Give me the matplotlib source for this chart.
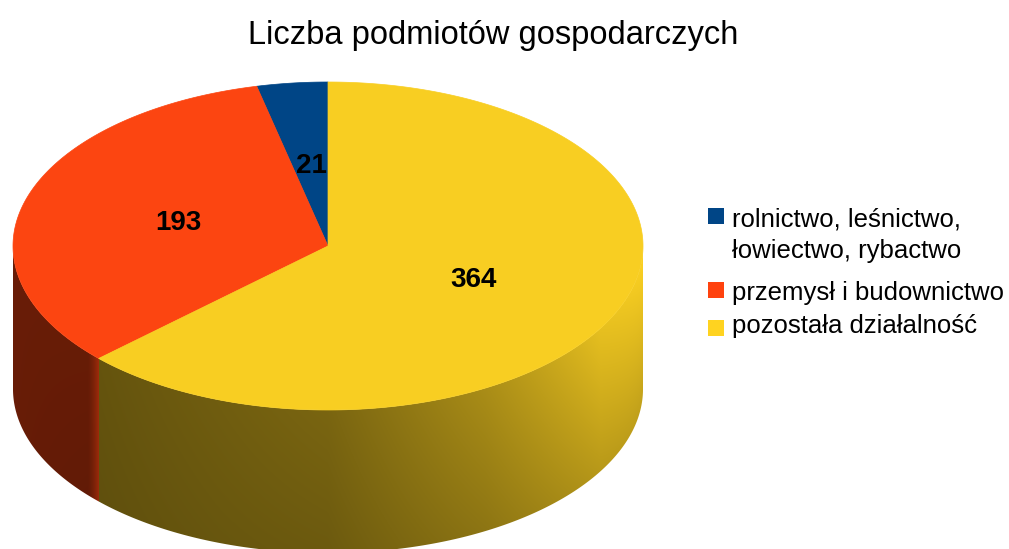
import numpy as np
import matplotlib
matplotlib.use("Agg")
import matplotlib.pyplot as plt
from matplotlib.patches import Polygon, Rectangle
from matplotlib.colors import to_rgb

# ---- data ----
title = "Liczba podmiotów gospodarczych"
categories = ["rolnictwo, leśnictwo,\nłowiectwo, rybactwo",
              "przemysł i budownictwo",
              "pozostała działalność"]
values = [21, 193, 364]
top_colors = ["#004586", "#fc4511", "#f8ce22"]
legend_colors = ["#004586", "#ff420e", "#ffd320"]

# ---- layout (pixels) ----
W, H = 1009, 549
cx, cy, a, b, depth = 328, 246, 315, 164, 143
start_angle = 90.0

fig = plt.figure(figsize=(W / 100, H / 100), dpi=100)
ax = fig.add_axes([0, 0, 1, 1])
ax.set_xlim(0, W)
ax.set_ylim(H, 0)
ax.axis("off")

total = float(sum(values))
spans = [v / total * 360.0 for v in values]
starts = start_angle + np.concatenate([[0], np.cumsum(spans)[:-1]])
ends = starts + np.array(spans)

def ex(t):
    return cx + a * np.cos(np.radians(t))

def ey(t):
    return cy - b * np.sin(np.radians(t))

# ---- side (shaded band) ----
xs = np.arange(W) + 0.5
ys = np.arange(H) + 0.5
X, Y = np.meshgrid(xs, ys)
u = np.clip((X - cx) / a, -1, 1)
T = 360.0 - np.degrees(np.arccos(u))          # 180..360 on the front side
Ytop = cy - b * np.sin(np.radians(T))
V = np.clip((Y - Ytop) / depth, 0, 1)

fa = [180, 223, 270, 300, 330, 360]
fv = [0.42, 0.40, 0.47, 0.64, 0.86, 0.94]
K = np.interp(T, [180, 250, 300, 360], [0.0, 0.3, 0.7, 1.0])
F = np.interp(T, fa, fv) * (1 + K * (0.10 - 0.26 * V))

img = np.ones((H, W, 3))
Tu = np.where(T >= start_angle, T, T + 360)
for i in range(len(values)):
    m = (Tu >= starts[i]) & (Tu < ends[i])
    base = np.array(to_rgb(top_colors[i]))
    Fi = F.copy()
    e = ends[i] % 360
    if 180 < e < 360:
        glow = np.clip((T - (e - 3.0)) / 3.0, 0, 1) ** 1.5
        Fi = Fi + glow * 0.22
    for c in range(3):
        img[..., c] = np.where(m, np.clip(base[c] * Fi, 0, 1), img[..., c])

tt = np.linspace(180, 360, 400)
side_pts = np.concatenate([
    np.column_stack([ex(tt), ey(tt)]),
    np.column_stack([ex(tt[::-1]), ey(tt[::-1]) + depth]),
])
side_poly = Polygon(side_pts, closed=True, facecolor="none", edgecolor="none")
ax.add_patch(side_poly)
im = ax.imshow(img, extent=(0, W, H, 0), origin="upper", interpolation="bilinear", zorder=1)
im.set_clip_path(side_poly)

# ---- top face wedges ----
for i in range(len(values)):
    t = np.linspace(starts[i], ends[i], max(int(spans[i] * 3), 10))
    pts = np.vstack([[cx, cy], np.column_stack([ex(t), ey(t)])])
    ax.add_patch(Polygon(pts, closed=True, facecolor=top_colors[i],
                         edgecolor=top_colors[i], linewidth=0.5, zorder=3))

# ---- value labels ----
for i, v in enumerate(values):
    mid = (starts[i] + ends[i]) / 2
    lx = cx + 0.5 * a * np.cos(np.radians(mid))
    ly = cy - 0.5 * b * np.sin(np.radians(mid))
    ax.text(lx + 1, ly + 1, str(v), ha="center", va="center", fontsize=20,
            fontweight="bold", family="Liberation Sans", color="black", zorder=5)

# ---- title ----
ax.text(493, 44, title, ha="center", va="baseline", fontsize=23.5,
        family="Liberation Sans", color="black")

# ---- legend ----
leg_x_box, leg_x_text, box = 708, 732, 16
box_centers = [216, 290, 328]
baselines = [227, 300, 333]
line_step = 31
for i, lab in enumerate(categories):
    ax.add_patch(Rectangle((leg_x_box, box_centers[i] - box / 2), box, box,
                           facecolor=legend_colors[i], edgecolor="none", zorder=5))
    for j, line in enumerate(lab.split("\n")):
        ax.text(leg_x_text, baselines[i] + j * line_step, line, ha="left",
                va="baseline", fontsize=18.5, family="Liberation Sans",
                color="black", zorder=5)

fig.savefig("out.png", dpi=100)
